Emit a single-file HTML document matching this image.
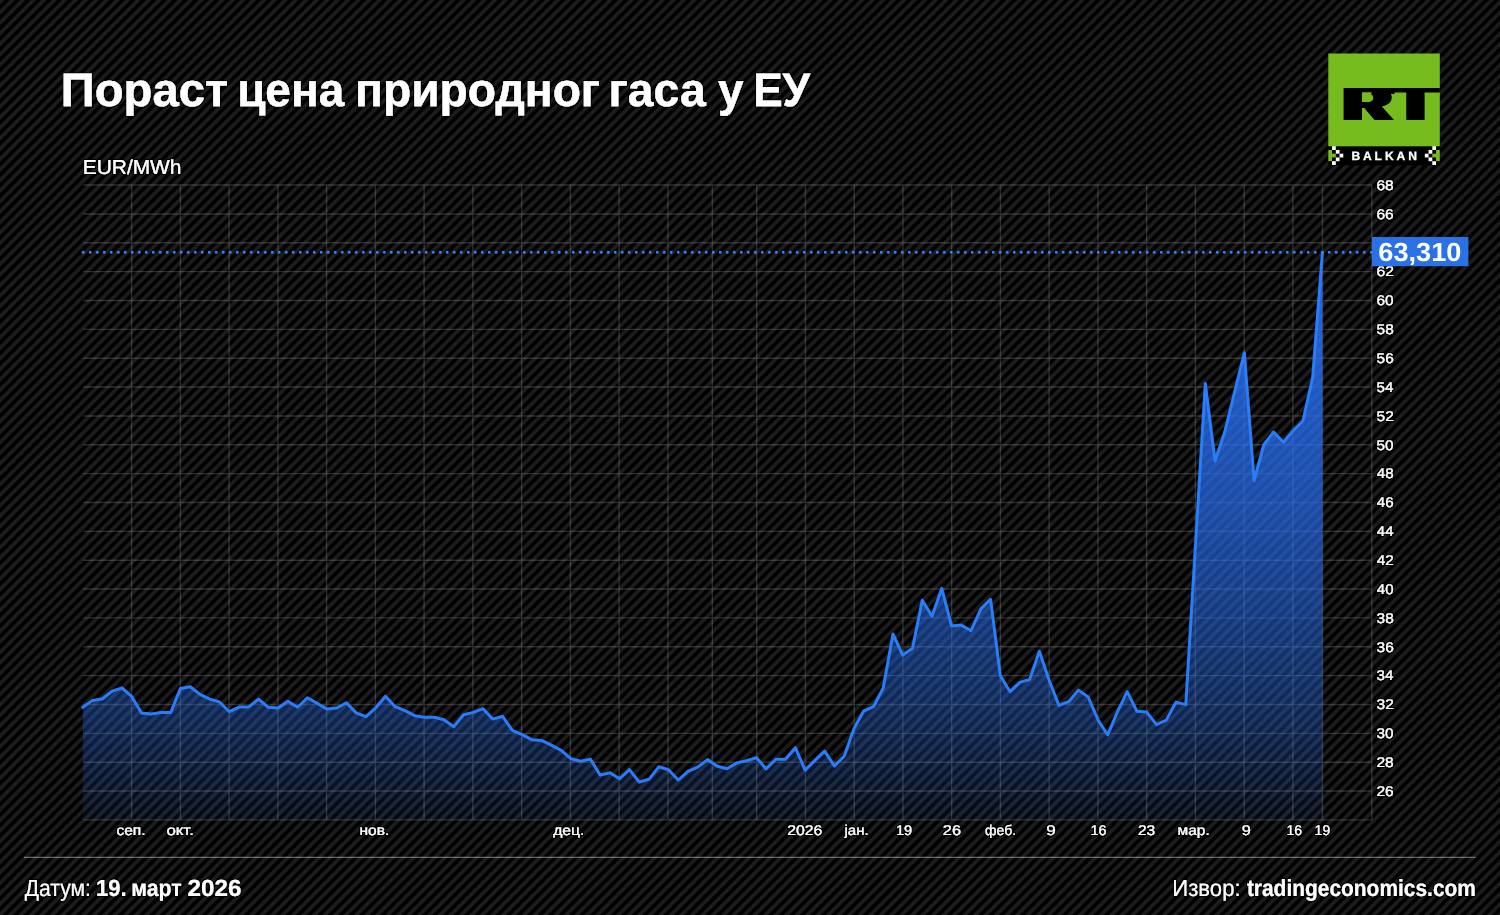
<!DOCTYPE html>
<html lang="sr">
<head>
<meta charset="utf-8">
<title>Пораст цена природног гаса у ЕУ</title>
<style>
html,body{margin:0;padding:0;background:#000;}
body{width:1500px;height:915px;overflow:hidden;}
svg{display:block;}
text{font-family:"Liberation Sans",sans-serif;fill:#fff;text-rendering:geometricPrecision;}
</style>
</head>
<body>
<svg width="1500" height="915" viewBox="0 0 1500 915">
<defs>
<linearGradient id="st" gradientUnits="userSpaceOnUse" x1="-1.384" y1="0.000" x2="3.861" y2="5.245" spreadMethod="repeat">
<stop offset="0" stop-color="#000"/>
<stop offset="0.140" stop-color="#1c1c1c"/>
<stop offset="0.496" stop-color="#1c1c1c"/>
<stop offset="0.636" stop-color="#000"/>
<stop offset="1" stop-color="#000"/>
</linearGradient>
<linearGradient id="ar" gradientUnits="userSpaceOnUse" x1="0" y1="252" x2="0" y2="820">
<stop offset="0.0000" stop-color="#286ef0" stop-opacity="0.92"/>
<stop offset="0.1021" stop-color="#286ef0" stop-opacity="0.88"/>
<stop offset="0.4577" stop-color="#286ef0" stop-opacity="0.68"/>
<stop offset="0.6127" stop-color="#286ef0" stop-opacity="0.54"/>
<stop offset="0.8275" stop-color="#286ef0" stop-opacity="0.33"/>
<stop offset="0.9683" stop-color="#286ef0" stop-opacity="0.12"/>
<stop offset="1.0000" stop-color="#286ef0" stop-opacity="0.07"/>
</linearGradient>
<filter id="sm" x="-30%" y="-30%" width="160%" height="160%"><feOffset in="SourceGraphic" dx="-2.857" dy="0" result="o0"/><feOffset in="SourceGraphic" dx="-2.143" dy="0" result="o1"/><feOffset in="SourceGraphic" dx="-1.429" dy="0" result="o2"/><feOffset in="SourceGraphic" dx="-0.714" dy="0" result="o3"/><feOffset in="SourceGraphic" dx="0.000" dy="0" result="o4"/><feOffset in="SourceGraphic" dx="0.714" dy="0" result="o5"/><feOffset in="SourceGraphic" dx="1.429" dy="0" result="o6"/><feOffset in="SourceGraphic" dx="2.143" dy="0" result="o7"/><feOffset in="SourceGraphic" dx="2.857" dy="0" result="o8"/><feOffset in="SourceGraphic" dx="3.571" dy="0" result="o9"/><feMerge><feMergeNode in="o0"/><feMergeNode in="o1"/><feMergeNode in="o2"/><feMergeNode in="o3"/><feMergeNode in="o4"/><feMergeNode in="o5"/><feMergeNode in="o6"/><feMergeNode in="o7"/><feMergeNode in="o8"/><feMergeNode in="o9"/></feMerge></filter>
<filter id="halo" filterUnits="userSpaceOnUse" x="0" y="0" width="1500" height="915"><feMorphology in="SourceAlpha" operator="dilate" radius="1" result="d"/><feGaussianBlur in="d" stdDeviation="0.35" result="b"/><feMerge><feMergeNode in="b"/><feMergeNode in="SourceGraphic"/></feMerge></filter>
<clipPath id="lg"><rect x="1328.3" y="53.5" width="111.5" height="93"/></clipPath>
</defs>
<rect width="1500" height="915" fill="#000"/>
<rect width="1500" height="915" fill="url(#st)"/>
<g filter="url(#halo)">
<text><tspan x="60.78" y="105.8" font-size="46.9" font-weight="700" textLength="167.37" lengthAdjust="spacingAndGlyphs" stroke="#fff" stroke-width="0.25">Пораст</tspan> <tspan x="237.14" y="105.8" font-size="46.9" font-weight="700" textLength="107.05" lengthAdjust="spacingAndGlyphs" stroke="#fff" stroke-width="0.25">цена</tspan> <tspan x="355.12" y="105.8" font-size="46.9" font-weight="700" textLength="245" lengthAdjust="spacingAndGlyphs" stroke="#fff" stroke-width="0.25">природног</tspan> <tspan x="608.51" y="105.8" font-size="46.9" font-weight="700" textLength="97.3" lengthAdjust="spacingAndGlyphs" stroke="#fff" stroke-width="0.25">гаса</tspan> <tspan x="717.96" y="105.8" font-size="46.9" font-weight="700" textLength="25.53" lengthAdjust="spacingAndGlyphs" stroke="#fff" stroke-width="0.25">у</tspan> <tspan x="753.18" y="105.8" font-size="46.9" font-weight="700" textLength="56.91" lengthAdjust="spacingAndGlyphs" stroke="#fff" stroke-width="0.25">ЕУ</tspan></text>
<text x="82.72" y="173.7" font-size="20.2" textLength="98.79" lengthAdjust="spacingAndGlyphs" stroke="#fff" stroke-width="0.1">EUR/MWh</text>
</g>
<g stroke="#fff" stroke-opacity="0.17" stroke-width="1.4" fill="none">
<path d="M83.3 185.07H1371.8M83.3 213.93H1371.8M83.3 242.78H1371.8M83.3 271.64H1371.8M83.3 300.5H1371.8M83.3 329.36H1371.8M83.3 358.21H1371.8M83.3 387.07H1371.8M83.3 415.93H1371.8M83.3 444.78H1371.8M83.3 473.64H1371.8M83.3 502.5H1371.8M83.3 531.35H1371.8M83.3 560.21H1371.8M83.3 589.07H1371.8M83.3 617.92H1371.8M83.3 646.78H1371.8M83.3 675.64H1371.8M83.3 704.5H1371.8M83.3 733.35H1371.8M83.3 762.21H1371.8M83.3 791.07H1371.8M83.3 819.92H1371.8M131.6 185.07V819.92M180.4 185.07V819.92M229.1 185.07V819.92M277.9 185.07V819.92M326.6 185.07V819.92M375.4 185.07V819.92M424.1 185.07V819.92M472.9 185.07V819.92M521.6 185.07V819.92M570.4 185.07V819.92M619.1 185.07V819.92M667.9 185.07V819.92M712.3 185.07V819.92M756.7 185.07V819.92M805.4 185.07V819.92M854.2 185.07V819.92M902.9 185.07V819.92M951.7 185.07V819.92M1000.4 185.07V819.92M1049.2 185.07V819.92M1097.9 185.07V819.92M1146.7 185.07V819.92M1195.4 185.07V819.92M1244.2 185.07V819.92M1292.9 185.07V819.92M1322.5 185.07V819.92M1371.8 185.07V819.92"/>
</g>
<path d="M82.9 707.3 92.66 700.4 102.42 698.7 112.18 691.1 121.94 688 131.7 696.4 141.46 712.9 151.22 714 160.98 712.4 170.74 712.4 180.5 688.4 190.26 686.7 200.02 694.4 209.78 699.1 219.54 702 229.3 711.7 239.06 707.1 248.82 706.9 258.58 699.1 268.34 707.3 278.1 708 287.86 701.3 297.62 707.3 307.38 697.7 317.14 703.3 326.9 709.1 336.66 708 346.42 702.7 356.18 712.9 365.94 716.7 375.7 708 385.46 696.3 395.22 706.7 404.98 710.7 414.74 715.7 424.5 717.3 434.26 717.3 444.02 719.7 453.78 726.7 463.54 714.8 473.3 712.4 483.06 708.7 492.82 719.1 502.58 716.3 512.34 730.4 522.1 734.7 531.86 739.7 541.62 740.4 551.38 745.1 561.14 750.4 570.9 758.7 580.66 761.3 590.42 759.1 600.18 775.1 609.94 772.7 619.7 778.7 629.46 769.6 639.22 782 648.98 779.3 658.74 766.8 668.5 769.7 678.26 780 688.02 771.3 697.78 767.1 707.54 759.6 717.3 766.3 727.06 768.7 736.82 762.9 746.58 760.7 756.34 757.6 766.1 768.9 775.86 759.3 785.62 759.3 795.38 747.7 805.14 770.2 814.9 760.4 824.66 751.1 834.42 766.1 844.18 756.3 853.94 728.7 863.7 711.1 873.46 706.7 883.22 688 892.98 634 902.74 655.1 912.5 648.3 922.26 600.3 932.02 616.3 941.78 588.3 951.54 626 961.3 625.1 971.06 630.7 980.82 609.1 990.58 599.3 1000.34 675.7 1010.1 691.7 1019.86 682.4 1029.62 679.5 1039.38 651.3 1049.14 680.3 1058.9 705.4 1068.66 701.7 1078.42 690.1 1088.18 697 1097.94 719.7 1107.7 735 1117.46 711.7 1127.22 691.7 1136.98 711.3 1146.74 712.1 1156.5 724.6 1166.26 720.1 1176.02 702.1 1185.78 704.6 1195.54 544 1205.3 383.5 1215.06 461 1224.82 431.5 1234.58 392 1244.34 352.7 1254.1 480.5 1263.86 444.5 1273.62 432 1283.38 442.3 1293.14 430.7 1302.9 421 1312.66 377.3 1322.42 252.5 V819.92 H82.9 Z" fill="url(#ar)"/>
<path d="M82.9 707.3 92.66 700.4 102.42 698.7 112.18 691.1 121.94 688 131.7 696.4 141.46 712.9 151.22 714 160.98 712.4 170.74 712.4 180.5 688.4 190.26 686.7 200.02 694.4 209.78 699.1 219.54 702 229.3 711.7 239.06 707.1 248.82 706.9 258.58 699.1 268.34 707.3 278.1 708 287.86 701.3 297.62 707.3 307.38 697.7 317.14 703.3 326.9 709.1 336.66 708 346.42 702.7 356.18 712.9 365.94 716.7 375.7 708 385.46 696.3 395.22 706.7 404.98 710.7 414.74 715.7 424.5 717.3 434.26 717.3 444.02 719.7 453.78 726.7 463.54 714.8 473.3 712.4 483.06 708.7 492.82 719.1 502.58 716.3 512.34 730.4 522.1 734.7 531.86 739.7 541.62 740.4 551.38 745.1 561.14 750.4 570.9 758.7 580.66 761.3 590.42 759.1 600.18 775.1 609.94 772.7 619.7 778.7 629.46 769.6 639.22 782 648.98 779.3 658.74 766.8 668.5 769.7 678.26 780 688.02 771.3 697.78 767.1 707.54 759.6 717.3 766.3 727.06 768.7 736.82 762.9 746.58 760.7 756.34 757.6 766.1 768.9 775.86 759.3 785.62 759.3 795.38 747.7 805.14 770.2 814.9 760.4 824.66 751.1 834.42 766.1 844.18 756.3 853.94 728.7 863.7 711.1 873.46 706.7 883.22 688 892.98 634 902.74 655.1 912.5 648.3 922.26 600.3 932.02 616.3 941.78 588.3 951.54 626 961.3 625.1 971.06 630.7 980.82 609.1 990.58 599.3 1000.34 675.7 1010.1 691.7 1019.86 682.4 1029.62 679.5 1039.38 651.3 1049.14 680.3 1058.9 705.4 1068.66 701.7 1078.42 690.1 1088.18 697 1097.94 719.7 1107.7 735 1117.46 711.7 1127.22 691.7 1136.98 711.3 1146.74 712.1 1156.5 724.6 1166.26 720.1 1176.02 702.1 1185.78 704.6 1195.54 544 1205.3 383.5 1215.06 461 1224.82 431.5 1234.58 392 1244.34 352.7 1254.1 480.5 1263.86 444.5 1273.62 432 1283.38 442.3 1293.14 430.7 1302.9 421 1312.66 377.3 1322.42 252.5" fill="none" stroke="#2a7df9" stroke-width="3" stroke-linejoin="round" stroke-linecap="round"/>
<path d="M83.25 252.3H1372" stroke="#2f86ff" stroke-width="3" stroke-linecap="round" stroke-dasharray="0 7" fill="none"/>
<g filter="url(#halo)">
<text x="1376.4" y="189.92" font-size="14" textLength="17.33" lengthAdjust="spacingAndGlyphs" stroke="#fff" stroke-width="0.1">68</text>
<text x="1376.4" y="218.78" font-size="14" textLength="17.33" lengthAdjust="spacingAndGlyphs" stroke="#fff" stroke-width="0.1">66</text>
<text x="1376.4" y="276.49" font-size="14" textLength="17.48" lengthAdjust="spacingAndGlyphs" stroke="#fff" stroke-width="0.1">62</text>
<text x="1376.41" y="305.35" font-size="14" textLength="17.18" lengthAdjust="spacingAndGlyphs" stroke="#fff" stroke-width="0.1">60</text>
<text x="1376.55" y="334.21" font-size="14" textLength="17.18" lengthAdjust="spacingAndGlyphs" stroke="#fff" stroke-width="0.1">58</text>
<text x="1376.55" y="363.06" font-size="14" textLength="17.18" lengthAdjust="spacingAndGlyphs" stroke="#fff" stroke-width="0.1">56</text>
<text x="1376.56" y="391.92" font-size="14" textLength="16.89" lengthAdjust="spacingAndGlyphs" stroke="#fff" stroke-width="0.1">54</text>
<text x="1376.54" y="420.78" font-size="14" textLength="17.33" lengthAdjust="spacingAndGlyphs" stroke="#fff" stroke-width="0.1">52</text>
<text x="1376.55" y="449.63" font-size="14" textLength="17.04" lengthAdjust="spacingAndGlyphs" stroke="#fff" stroke-width="0.1">50</text>
<text x="1376.83" y="478.49" font-size="14" textLength="16.89" lengthAdjust="spacingAndGlyphs" stroke="#fff" stroke-width="0.1">48</text>
<text x="1376.83" y="507.35" font-size="14" textLength="16.89" lengthAdjust="spacingAndGlyphs" stroke="#fff" stroke-width="0.1">46</text>
<text x="1376.83" y="536.2" font-size="14" textLength="16.61" lengthAdjust="spacingAndGlyphs" stroke="#fff" stroke-width="0.1">44</text>
<text x="1376.83" y="565.06" font-size="14" textLength="17.04" lengthAdjust="spacingAndGlyphs" stroke="#fff" stroke-width="0.1">42</text>
<text x="1376.83" y="593.92" font-size="14" textLength="16.75" lengthAdjust="spacingAndGlyphs" stroke="#fff" stroke-width="0.1">40</text>
<text x="1376.55" y="622.77" font-size="14" textLength="17.18" lengthAdjust="spacingAndGlyphs" stroke="#fff" stroke-width="0.1">38</text>
<text x="1376.55" y="651.63" font-size="14" textLength="17.18" lengthAdjust="spacingAndGlyphs" stroke="#fff" stroke-width="0.1">36</text>
<text x="1376.56" y="680.49" font-size="14" textLength="16.89" lengthAdjust="spacingAndGlyphs" stroke="#fff" stroke-width="0.1">34</text>
<text x="1376.54" y="709.35" font-size="14" textLength="17.33" lengthAdjust="spacingAndGlyphs" stroke="#fff" stroke-width="0.1">32</text>
<text x="1376.55" y="738.2" font-size="14" textLength="17.04" lengthAdjust="spacingAndGlyphs" stroke="#fff" stroke-width="0.1">30</text>
<text x="1376.4" y="767.06" font-size="14" textLength="17.33" lengthAdjust="spacingAndGlyphs" stroke="#fff" stroke-width="0.1">28</text>
<text x="1376.4" y="795.92" font-size="14" textLength="17.33" lengthAdjust="spacingAndGlyphs" stroke="#fff" stroke-width="0.1">26</text>
</g>
<rect x="1372" y="237" width="96.4" height="29.2" fill="#2a71e6"/>
<text x="1378.27" y="261.2" font-size="26.3" font-weight="700" textLength="83.13" lengthAdjust="spacingAndGlyphs">63,310</text>
<g filter="url(#halo)">
<text x="116.44" y="835.4" font-size="14" textLength="29.15" lengthAdjust="spacingAndGlyphs" stroke="#fff" stroke-width="0.1">сеп.</text>
<text x="166.4" y="835.4" font-size="14" textLength="27.54" lengthAdjust="spacingAndGlyphs" stroke="#fff" stroke-width="0.1">окт.</text>
<text x="359.53" y="835.4" font-size="14" textLength="29.83" lengthAdjust="spacingAndGlyphs" stroke="#fff" stroke-width="0.1">нов.</text>
<text x="553.16" y="835.4" font-size="14" textLength="31.23" lengthAdjust="spacingAndGlyphs" stroke="#fff" stroke-width="0.1">дец.</text>
<text x="787.3" y="835.4" font-size="14" textLength="35.09" lengthAdjust="spacingAndGlyphs" stroke="#fff" stroke-width="0.1">2026</text>
<text x="844.41" y="835.4" font-size="14" textLength="24.37" lengthAdjust="spacingAndGlyphs" stroke="#fff" stroke-width="0.1">јан.</text>
<text x="895.96" y="835.4" font-size="14" textLength="16.24" lengthAdjust="spacingAndGlyphs" stroke="#fff" stroke-width="0.1">19</text>
<text x="942.87" y="835.4" font-size="14" textLength="18.2" lengthAdjust="spacingAndGlyphs" stroke="#fff" stroke-width="0.1">26</text>
<text x="985.1" y="835.4" font-size="14" textLength="31.08" lengthAdjust="spacingAndGlyphs" stroke="#fff" stroke-width="0.1">феб.</text>
<text x="1046.23" y="835.4" font-size="14" textLength="9.58" lengthAdjust="spacingAndGlyphs" stroke="#fff" stroke-width="0.1">9</text>
<text x="1090.57" y="835.4" font-size="14" textLength="16.02" lengthAdjust="spacingAndGlyphs" stroke="#fff" stroke-width="0.1">16</text>
<text x="1137.9" y="835.4" font-size="14" textLength="17.33" lengthAdjust="spacingAndGlyphs" stroke="#fff" stroke-width="0.1">23</text>
<text x="1177.63" y="835.4" font-size="14" textLength="32.1" lengthAdjust="spacingAndGlyphs" stroke="#fff" stroke-width="0.1">мар.</text>
<text x="1241.67" y="835.4" font-size="14" textLength="9.1" lengthAdjust="spacingAndGlyphs" stroke="#fff" stroke-width="0.1">9</text>
<text x="1286.4" y="835.4" font-size="14" textLength="15.57" lengthAdjust="spacingAndGlyphs" stroke="#fff" stroke-width="0.1">16</text>
<text x="1314.6" y="835.4" font-size="14" textLength="15.57" lengthAdjust="spacingAndGlyphs" stroke="#fff" stroke-width="0.1">19</text>
</g>
<path d="M24 857.4H1475.5" stroke="#fff" stroke-opacity="0.4" stroke-width="1.2" fill="none"/>
<g filter="url(#halo)">
<text><tspan x="24.69" y="896.4" font-size="23.4" textLength="66.21" lengthAdjust="spacingAndGlyphs" fill-opacity="0.96">Датум:</tspan> <tspan x="95.99" y="896.4" font-size="23.4" font-weight="700" textLength="30.56" lengthAdjust="spacingAndGlyphs">19.</tspan> <tspan x="131.32" y="896.4" font-size="23.4" font-weight="700" textLength="50.41" lengthAdjust="spacingAndGlyphs">март</tspan> <tspan x="187.62" y="896.4" font-size="23.4" font-weight="700" textLength="54.01" lengthAdjust="spacingAndGlyphs">2026</tspan></text>
<text><tspan x="1172.33" y="896.4" font-size="23.4" textLength="68.27" lengthAdjust="spacingAndGlyphs" fill-opacity="0.96">Извор:</tspan> <tspan x="1246.88" y="896.4" font-size="23.4" font-weight="700" textLength="229.07" lengthAdjust="spacingAndGlyphs">tradingeconomics.com</tspan></text>
</g>
<g>
<rect x="1328.3" y="146" width="111.5" height="19.3" fill="#000"/>
<rect x="1328.3" y="53.5" width="111.5" height="92.8" fill="#77bc1f"/>
<g clip-path="url(#lg)">
<rect x="1380" y="88" width="16" height="5.9" fill="#000"/>
<rect x="1434" y="88" width="6" height="5.9" fill="#000"/>
<text font-weight="700" x="0" y="120" font-size="46.6" style="fill:#000;letter-spacing:3.2px" filter="url(#sm)" transform="translate(1343.3 0) scale(1.4 1)">RT</text>
<path d="M1394.5 92.4H1406.3V94.4H1394.5ZM1424.6 92.4H1440V94.4H1424.6ZM1362.1 92.2H1371.5V94.4H1362.1Z" fill="#77bc1f"/>
</g>
<rect x="1328.3" y="149.95" width="3.75" height="11.25" fill="#77bc1f"/><rect x="1332.05" y="153.7" width="3.75" height="3.75" fill="#77bc1f"/><rect x="1332.05" y="146.2" width="3.75" height="3.75" fill="#fff"/><rect x="1335.8" y="149.95" width="3.75" height="3.75" fill="#fff"/><rect x="1339.55" y="153.7" width="3.75" height="3.75" fill="#fff"/><rect x="1335.8" y="157.45" width="3.75" height="3.75" fill="#fff"/><rect x="1332.05" y="161.2" width="3.75" height="3.75" fill="#fff"/>
<rect x="1436.05" y="149.95" width="3.75" height="11.25" fill="#77bc1f"/><rect x="1432.3" y="153.7" width="3.75" height="3.75" fill="#77bc1f"/><rect x="1432.3" y="146.2" width="3.75" height="3.75" fill="#fff"/><rect x="1428.55" y="149.95" width="3.75" height="3.75" fill="#fff"/><rect x="1424.8" y="153.7" width="3.75" height="3.75" fill="#fff"/><rect x="1428.55" y="157.45" width="3.75" height="3.75" fill="#fff"/><rect x="1432.3" y="161.2" width="3.75" height="3.75" fill="#fff"/>
<text x="1351.38" y="160" font-size="12.1" font-weight="700" style="letter-spacing:2.890px" stroke="#fff" stroke-width="0.3">BALKAN</text>
</g>
</svg>
</body>
</html>
